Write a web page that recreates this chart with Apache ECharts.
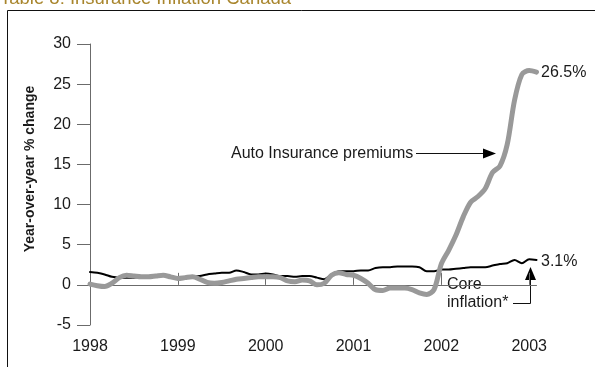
<!DOCTYPE html>
<html>
<head>
<meta charset="utf-8">
<script src="https://cdn.jsdelivr.net/npm/echarts@6/dist/echarts.min.js"></script>
<style>
  html, body { margin: 0; padding: 0; background: #fff; }
  #chart { width: 595px; height: 367px; }
</style>
</head>
<body>
<div id="chart"></div>
<script>
// monthly, Jan 1998 .. Feb 2003
const years = [1998, 1999, 2000, 2001, 2002, 2003]
const yTicks = { min: -5, max: 30, step: 5 }

const coreInflation = [
  1.6, 1.5, 1.3, 1.0, 0.9, 0.9, 0.9, 1.0, 1.0, 1.1, 1.2, 1.1,
  0.9, 0.9, 1.0, 1.1, 1.3, 1.4, 1.5, 1.5, 1.8, 1.6, 1.3, 1.3,
  1.4, 1.3, 1.1, 1.1, 1.0, 1.1, 1.1, 0.9, 0.7, 1.3, 1.7, 1.7,
  1.7, 1.8, 1.8, 2.1, 2.2, 2.2, 2.3, 2.3, 2.3, 2.2, 1.7, 1.7,
  1.9, 1.9, 2.0, 2.1, 2.2, 2.2, 2.2, 2.4, 2.6, 2.7, 3.1, 2.7,
  3.2, 3.1
]
const autoPremiums = [
  0.1, -0.1, -0.2, 0.2, 0.9, 1.2, 1.1, 1.0, 1.0, 1.1, 1.2, 1.0,
  0.8, 0.9, 1.0, 0.7, 0.3, 0.2, 0.3, 0.5, 0.7, 0.8, 0.9, 1.0,
  1.0, 1.0, 0.9, 0.5, 0.4, 0.6, 0.5, 0.0, 0.2, 1.2, 1.5, 1.3,
  1.2, 0.8, 0.2, -0.6, -0.7, -0.4, -0.4, -0.4, -0.6, -1.0, -1.2, -0.6,
  2.6, 4.3, 6.2, 8.5, 10.3, 11.0, 12.0, 14.0, 14.8, 17.5, 23.0, 26.2,
  26.7, 26.5
]

const categories = []
years.forEach(y => {
  for (let m = 1; m <= 12; m++) {
    if (categories.length < autoPremiums.length) categories.push(y + '-' + m)
  }
})

const font = 'Arial, "Liberation Sans", sans-serif'
const axisGrey = '#6b6b6b'
const txt = '#1a1a1a'

const myChart = echarts.init(document.getElementById('chart'), null, { renderer: 'canvas' })
myChart.setOption({
  animation: false,
  grid: { left: 90, right: 58.5, top: 44, bottom: 42 },
  xAxis: {
    type: 'category',
    data: categories,
    boundaryGap: false,
    axisLine: { lineStyle: { color: axisGrey, width: 1 } },
    axisTick: { show: true, inside: true, length: 12, interval: 11, lineStyle: { color: axisGrey } },
    axisLabel: {
      interval: 11, margin: 14, color: txt, fontSize: 16, fontFamily: font,
      formatter: v => v.split('-')[0]
    },
    splitLine: { show: false }
  },
  yAxis: {
    type: 'value',
    min: yTicks.min, max: yTicks.max, interval: yTicks.step,
    axisLine: { show: true, lineStyle: { color: axisGrey, width: 1 } },
    axisTick: { show: true, length: 13, lineStyle: { color: axisGrey } },
    axisLabel: { margin: 19, color: txt, fontSize: 16, fontFamily: font },
    splitLine: { show: false }
  },
  series: [
    {
      name: 'Core inflation',
      type: 'line',
      data: coreInflation,
      smooth: 0.3,
      symbol: 'none',
      lineStyle: { color: '#000', width: 2, cap: 'round', join: 'round' }
    },
    {
      name: 'Auto Insurance premiums',
      type: 'line',
      data: autoPremiums,
      smooth: 0.3,
      symbol: 'none',
      lineStyle: { color: '#999', width: 5, cap: 'round', join: 'round' }
    }
  ],
  graphic: [
    // frame
    { type: 'polyline', shape: { points: [[7.5, 367], [7.5, 10.5], [595, 10.5]] }, style: { stroke: '#111', lineWidth: 1, fill: null } },
    // title (cut at the top)
    { type: 'text', left: 0, top: -11, style: { text: 'Table 8: Insurance Inflation Canada', fill: '#a8852c', font: '18.5px ' + font } },
    // y axis name
    { type: 'text', x: 30, y: 169, rotation: Math.PI / 2, style: { text: 'Year-over-year % change', fill: txt, font: 'bold 14px ' + font, align: 'center', verticalAlign: 'middle' } },
    // annotations
    { type: 'text', x: 231, y: 154, style: { text: 'Auto Insurance premiums', fill: txt, font: '16px ' + font, verticalAlign: 'middle' } },
    { type: 'line', shape: { x1: 416, y1: 153.5, x2: 484, y2: 153.5 }, style: { stroke: '#111', lineWidth: 1 } },
    { type: 'polygon', shape: { points: [[483, 148.5], [496, 153.5], [483, 158.5]] }, style: { fill: '#000' } },
    { type: 'text', x: 541, y: 73, style: { text: '26.5%', fill: txt, font: '16px ' + font, verticalAlign: 'middle' } },
    { type: 'text', x: 541, y: 262, style: { text: '3.1%', fill: txt, font: '16px ' + font, verticalAlign: 'middle' } },
    { type: 'text', x: 447, y: 285, style: { text: 'Core', fill: txt, font: '16px ' + font, verticalAlign: 'middle' } },
    { type: 'text', x: 447, y: 303, style: { text: 'inflation*', fill: txt, font: '16px ' + font, verticalAlign: 'middle' } },
    { type: 'polyline', shape: { points: [[513, 303.5], [530.5, 303.5], [530.5, 279]] }, style: { stroke: '#111', lineWidth: 1, fill: null } },
    { type: 'polygon', shape: { points: [[525, 280], [530.5, 267], [536, 280]] }, style: { fill: '#000' } }
  ]
})
</script>
</body>
</html>
